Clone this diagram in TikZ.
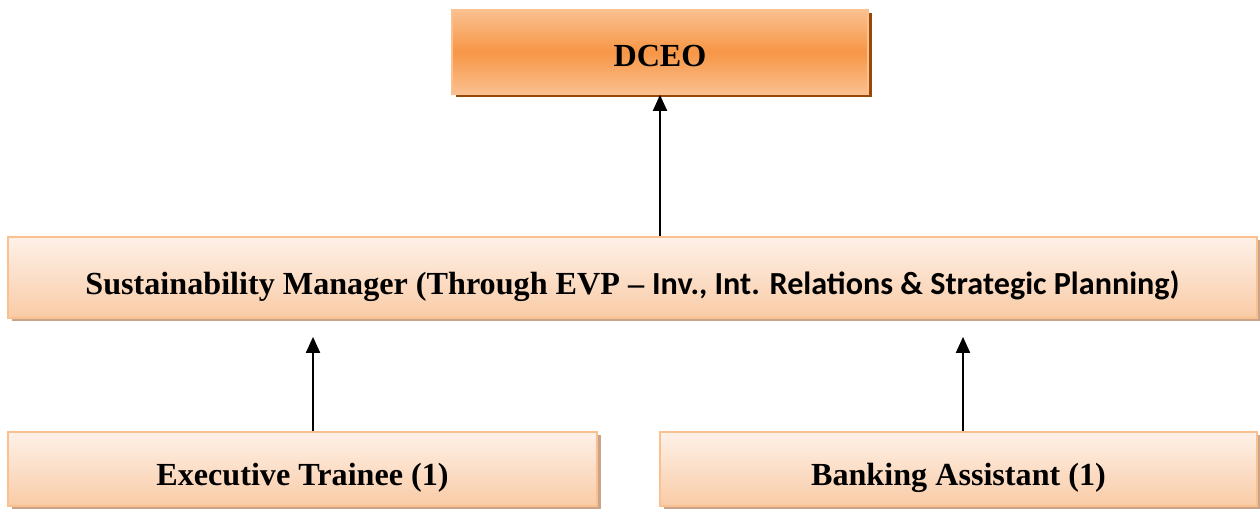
\documentclass[tikz,border=0pt]{standalone}
\usepackage{fontspec}
\setmainfont{Liberation Serif}
\newfontfamily\calibrifont{Carlito}
\usetikzlibrary{arrows.meta,calc,shadows}

\definecolor{darkorange}{HTML}{F79646}
\definecolor{lightorange}{HTML}{FAC08F}
\definecolor{peachtop}{HTML}{FEF1E8}
\definecolor{peachbot}{HTML}{F9CBA6}
\definecolor{peachline}{HTML}{FAC090}
\definecolor{rustshadow}{HTML}{984807}
\definecolor{tanshadow}{HTML}{C9A48A}

\begin{document}
\begin{tikzpicture}[>={Triangle[width=0.28cm,length=0.32cm]}, line cap=butt]

% ----------------------------
% STYLES
% ----------------------------
\tikzset{
  headbox/.style={draw=lightorange, line width=1pt,
    top color=lightorange, bottom color=lightorange, middle color=darkorange,
    drop shadow={shadow xshift=0.07cm, shadow yshift=-0.07cm,
      fill=rustshadow, opacity=1},
    font=\fontsize{18.3}{21}\selectfont\bfseries, inner sep=0pt,
    text height=21pt, text depth=4.5pt},
  staffbox/.style={draw=peachline, line width=1pt,
    top color=peachtop, bottom color=peachbot,
    drop shadow={shadow xshift=0.07cm, shadow yshift=-0.07cm,
      fill=tanshadow, opacity=1},
    font=\fontsize{18.3}{21}\selectfont\bfseries, inner sep=0pt,
    text height=23.5pt, text depth=4.5pt},
  reportline/.style={->, line width=1.1pt}
}

\useasboundingbox (0,0) rectangle (25.2,10.2);

% ----------------------------
% BOXES
% ----------------------------
\node[headbox, minimum width=8.32cm, minimum height=1.68cm]
  (dceo) at (13.2,9.16) {DCEO};

\node[staffbox, minimum width=24.98cm, minimum height=1.62cm]
  (mgr) at (12.65,4.65)
  {Sustainability Manager (Through EVP -- {\calibrifont Inv., Int. Relations \& Strategic Planning)}};

\node[staffbox, minimum width=11.78cm, minimum height=1.48cm]
  (trainee) at (6.05,0.82) {Executive Trainee (1)};

\node[staffbox, minimum width=11.94cm, minimum height=1.48cm]
  (assistant) at (19.17,0.82) {Banking Assistant (1)};

% ----------------------------
% REPORTING LINES
% ----------------------------
\draw[reportline] (mgr.north -| dceo.south) -- (dceo.south);

\draw[reportline, shorten >=0.36cm]
  ($(trainee.north)+(0.21,0)$) -- ($(trainee.north |- mgr.south)+(0.21,0)$);
\draw[reportline, shorten >=0.36cm]
  ($(assistant.north)+(0.09,0)$) -- ($(assistant.north |- mgr.south)+(0.09,0)$);

\end{tikzpicture}
\end{document}
